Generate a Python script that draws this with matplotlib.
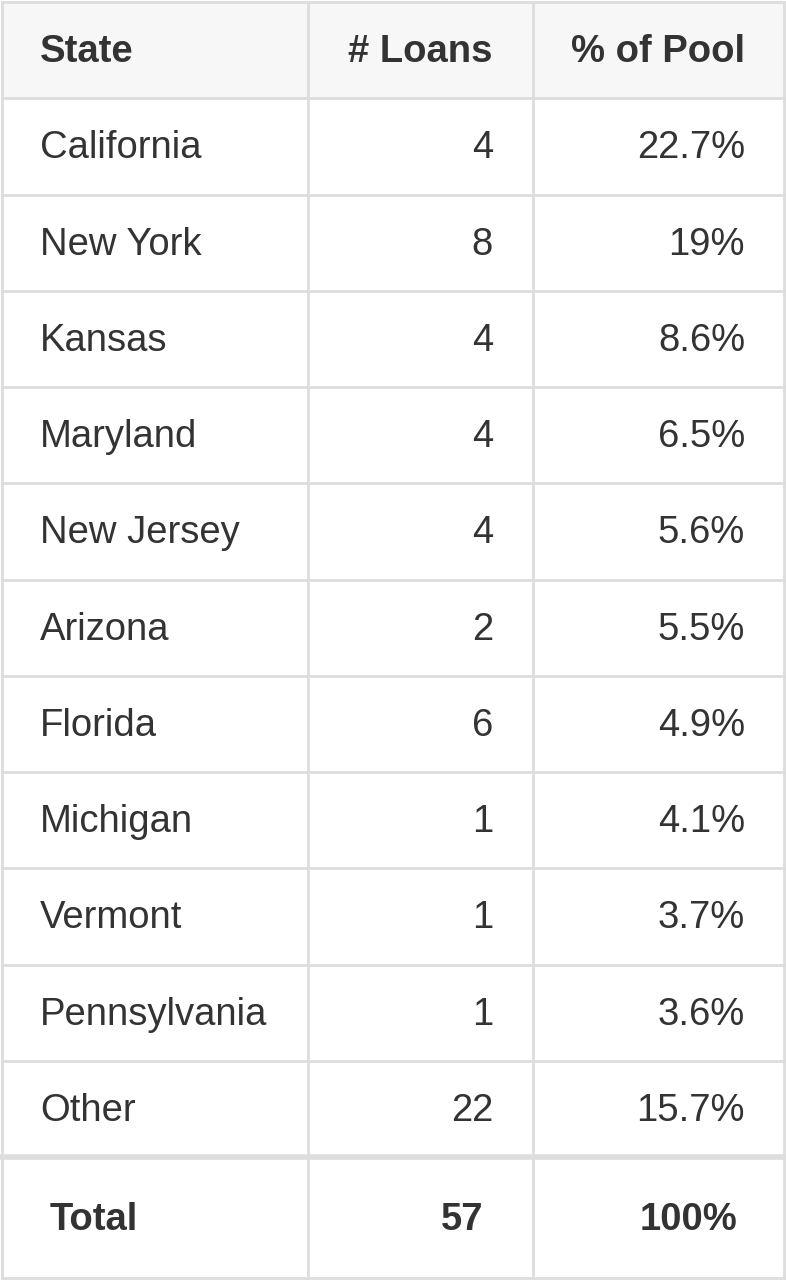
import matplotlib
matplotlib.use("Agg")
import matplotlib.pyplot as plt
from matplotlib.patches import Rectangle

headers = ["State", "# Loans", "% of Pool"]
states = ["California", "New York", "Kansas", "Maryland", "New Jersey", "Arizona",
          "Florida", "Michigan", "Vermont", "Pennsylvania", "Other"]
loans = [4, 8, 4, 4, 4, 2, 6, 1, 1, 1, 22]
pool = ["22.7%", "19%", "8.6%", "6.5%", "5.6%", "5.5%", "4.9%", "4.1%", "3.7%", "3.6%", "15.7%"]
total = ["Total", "57", "100%"]

W, H = 786, 1281
fig = plt.figure(figsize=(W/100, H/100), dpi=100)
ax = fig.add_axes([0, 0, 1, 1])
ax.set_xlim(0, W); ax.set_ylim(H, 0); ax.axis("off")

txt = "#333333"; grid = "#dddddd"
fam = ["Liberation Sans", "DejaVu Sans"]
fs = 27.5
left, right = 2, 784
cols = [2, 308, 533, 784]
top = 2
rh = 96.25
bounds = [top + rh*i for i in range(13)]  # header + 11 rows + total top
tot_top = bounds[-1]
bottom = 1278

ax.add_patch(Rectangle((left, top), right-left, rh, color="#f7f7f7", zorder=0))
for y in bounds[:-1]:
    ax.plot([left, right], [y, y], color=grid, lw=2)
ax.plot([left, right], [tot_top, tot_top], color=grid, lw=4)
ax.plot([left, right], [bottom, bottom], color=grid, lw=2)
for x in cols:
    ax.plot([x, x], [top, bottom], color=grid, lw=2)

def cy(i):
    return bounds[i] + rh/2 + 2

ax.text(40, cy(0), headers[0], ha="left", va="center", fontsize=fs, weight="bold", color=txt, family=fam)
ax.text(493, cy(0), headers[1], ha="right", va="center", fontsize=fs, weight="bold", color=txt, family=fam)
ax.text(745, cy(0), headers[2], ha="right", va="center", fontsize=fs, weight="bold", color=txt, family=fam)
for i, (s, l, p) in enumerate(zip(states, loans, pool)):
    y = cy(i+1)
    ax.text(40, y, s, ha="left", va="center", fontsize=fs, color=txt, family=fam)
    ax.text(493, y, str(l), ha="right", va="center", fontsize=fs, color=txt, family=fam)
    ax.text(745, y, p, ha="right", va="center", fontsize=fs, color=txt, family=fam)
ty = (tot_top + bottom)/2 + 2
ax.text(50, ty, total[0], ha="left", va="center", fontsize=fs, weight="bold", color=txt, family=fam)
ax.text(483, ty, total[1], ha="right", va="center", fontsize=fs, weight="bold", color=txt, family=fam)
ax.text(737, ty, total[2], ha="right", va="center", fontsize=fs, weight="bold", color=txt, family=fam)

fig.savefig("out.png", dpi=100, facecolor="white")
